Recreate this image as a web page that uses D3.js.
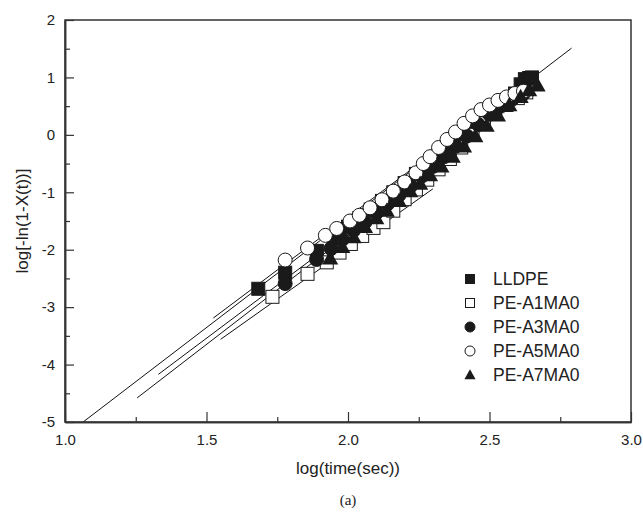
<!DOCTYPE html>
<html>
<head>
<meta charset="utf-8">
<script src="https://cdn.jsdelivr.net/npm/d3@7"></script>
<style>
  body { margin: 0; background: #fff; }
  svg { font-family: "Liberation Sans", Arial, sans-serif; }
</style>
</head>
<body>
<div id="chart"></div>
<script>
const seriesNames = ["LLDPE", "PE-A1MA0", "PE-A3MA0", "PE-A5MA0", "PE-A7MA0"];
const seriesSymbols = ["square", "squareOpen", "circle", "circleOpen", "triangle"];

// data points [log t, log(-ln(1-X))]
const lldpe = [[1.683,-2.68],[1.778,-2.40],[1.89,-2.02],[1.95,-1.8],[2.0,-1.6],[2.04,-1.45],[2.08,-1.3],
    [2.12,-1.15],[2.16,-1.0],[2.2,-0.84],[2.24,-0.68],[2.28,-0.52],[2.32,-0.35],[2.36,-0.18],[2.40,0.0],
    [2.44,0.16],[2.48,0.32],[2.52,0.47],[2.56,0.6],[2.59,0.72],[2.61,0.88],[2.625,0.97],[2.64,0.99],[2.65,1.0]];
const a1ma0 = [[1.733,-2.82],[1.857,-2.42],[1.925,-2.22],[1.97,-2.05],[2.01,-1.9],[2.05,-1.76],[2.09,-1.62],
    [2.125,-1.52],[2.16,-1.32],[2.2,-1.12],[2.24,-0.95],[2.28,-0.78],[2.32,-0.6],[2.36,-0.42],[2.4,-0.22],
    [2.44,0.0],[2.48,0.2],[2.52,0.38],[2.56,0.52],[2.6,0.64],[2.63,0.74]];
const a3ma0 = [[1.778,-2.59],[1.889,-2.17],[1.94,-1.98],[1.98,-1.82],[2.02,-1.66],[2.06,-1.52],[2.1,-1.36],
    [2.14,-1.2],[2.18,-1.05],[2.22,-0.9],[2.26,-0.72],[2.3,-0.55],[2.34,-0.38],[2.38,-0.2],[2.42,-0.02],
    [2.46,0.18],[2.5,0.36],[2.54,0.5],[2.58,0.62],[2.62,0.72]];
const a5ma0 = [[1.778,-2.18],[1.857,-1.97],[1.92,-1.75],[1.96,-1.63],[2.007,-1.5],[2.04,-1.4],[2.078,-1.27],
    [2.12,-1.13],[2.16,-0.98],[2.2,-0.82],[2.24,-0.66],[2.266,-0.5],[2.29,-0.38],[2.32,-0.22],[2.35,-0.08],
    [2.38,0.05],[2.41,0.2],[2.44,0.33],[2.47,0.44],[2.5,0.52],[2.53,0.6],[2.56,0.66],[2.59,0.72],[2.62,0.76]];
const a7ma0 = [[1.937,-2.15],[1.98,-1.95],[2.02,-1.78],[2.06,-1.6],[2.1,-1.45],[2.137,-1.32],[2.18,-1.15],
    [2.22,-0.98],[2.255,-0.85],[2.29,-0.7],[2.33,-0.55],[2.37,-0.38],[2.41,-0.2],[2.45,-0.02],[2.49,0.16],
    [2.53,0.34],[2.57,0.52],[2.61,0.66],[2.64,0.78],[2.67,0.86]];

// fitted lines, [x1, y1, x2, y2]
const fitLines = [
    [1.064, -5.0, 2.79, 1.51],
    [1.55, -3.56, 2.30, -0.94],
    [1.33, -4.17, 2.45, -0.03],
    [1.524, -3.19, 2.50, 0.42],
    [1.255, -4.58, 2.45, -0.04]
];

const xTicks = [1.0, 1.5, 2.0, 2.5, 3.0];
const xMinor = [1.25, 1.75, 2.25, 2.75];
const yTicks = [-5, -4, -3, -2, -1, 0, 1, 2];
const yMinor = [-4.5, -3.5, -2.5, -1.5, -0.5, 0.5, 1.5];

const allSeries = [lldpe, a1ma0, a3ma0, a5ma0, a7ma0];

const width = 643, height = 512,
    margin = { top: 20, right: 12, bottom: 90, left: 65 };

const svg = d3.select("#chart").append("svg")
    .attr("width", width).attr("height", height);

const x = d3.scaleLinear().domain([1, 3]).range([margin.left, width - margin.right]);
const y = d3.scaleLinear().domain([-5, 2]).range([height - margin.bottom, margin.top]);

const axisColor = "#333";

// fit lines
svg.append("g")
    .selectAll("line")
    .data(fitLines)
    .join("line")
    .attr("x1", d => x(d[0])).attr("y1", d => y(d[1]))
    .attr("x2", d => x(d[2])).attr("y2", d => y(d[3]))
    .attr("stroke", "#111").attr("stroke-width", 1);

function drawSymbol(g, type, cx, cy, s) {
    if (type === "square" || type === "squareOpen") {
        g.append("rect")
            .attr("x", cx - s / 2).attr("y", cy - s / 2)
            .attr("width", s).attr("height", s)
            .attr("fill", type === "square" ? "#1a1a1a" : "#fff")
            .attr("stroke", "#1a1a1a").attr("stroke-width", 1);
    } else if (type === "circle" || type === "circleOpen") {
        g.append("circle")
            .attr("cx", cx).attr("cy", cy).attr("r", s / 2 + 0.5)
            .attr("fill", type === "circle" ? "#1a1a1a" : "#fff")
            .attr("stroke", "#1a1a1a").attr("stroke-width", 1);
    } else {
        const h = s * 1.05;
        g.append("path")
            .attr("d", `M${cx},${cy - h * 0.6}L${cx + s * 0.62},${cy + h * 0.45}L${cx - s * 0.62},${cy + h * 0.45}Z`)
            .attr("fill", "#1a1a1a");
    }
}

// markers
const marks = svg.append("g");
allSeries.forEach((data, i) => {
    data.forEach(d => drawSymbol(marks, seriesSymbols[i], x(d[0]), y(d[1]), 13));
});

// axes frame
svg.append("rect")
    .attr("x", margin.left).attr("y", margin.top)
    .attr("width", x(3) - x(1)).attr("height", y(-5) - y(2))
    .attr("fill", "none").attr("stroke", axisColor).attr("stroke-width", 1.5);

svg.append("g").attr("transform", `translate(0,${y(-5)})`)
    .call(d3.axisBottom(x).tickValues(xTicks).tickFormat(d3.format(".1f")).tickSizeInner(-10).tickSizeOuter(0).tickPadding(12));
svg.append("g").attr("transform", `translate(0,${y(-5)})`)
    .call(d3.axisBottom(x).tickValues(xMinor).tickFormat("").tickSizeInner(-5).tickSizeOuter(0));

svg.append("g").attr("transform", `translate(${margin.left},0)`)
    .call(d3.axisLeft(y).tickValues(yTicks).tickFormat(d => String(d)).tickSizeInner(-9).tickSizeOuter(0).tickPadding(10));
svg.append("g").attr("transform", `translate(${margin.left},0)`)
    .call(d3.axisLeft(y).tickValues(yMinor).tickFormat("").tickSizeInner(-5).tickSizeOuter(0));

svg.selectAll(".domain").attr("stroke", axisColor).attr("stroke-width", 1.5);
svg.selectAll(".tick line").attr("stroke", axisColor).attr("stroke-width", 1.2);
svg.selectAll(".tick text").attr("font-size", 15).attr("fill", "#222")
    .attr("font-family", "Liberation Sans, Arial, sans-serif");

// titles
svg.append("text")
    .attr("x", (x(1) + x(3)) / 2).attr("y", 474)
    .attr("text-anchor", "middle").attr("font-size", 17).attr("fill", "#222")
    .text("log(time(sec))");

svg.append("text")
    .attr("transform", `translate(28,${(y(2) + y(-5)) / 2}) rotate(-90)`)
    .attr("text-anchor", "middle").attr("font-size", 17).attr("fill", "#222")
    .text("log[-ln(1-X(t))]");

svg.append("text")
    .attr("x", (x(1) + x(3)) / 2).attr("y", 505)
    .attr("text-anchor", "middle").attr("font-size", 15).attr("fill", "#222")
    .attr("font-family", "Liberation Serif, Times New Roman, serif")
    .text("(a)");

// legend
const legend = svg.append("g");
seriesNames.forEach((name, i) => {
    const ly = 279 + i * 24;
    drawSymbol(legend, seriesSymbols[i], 470, ly, 9);
    legend.append("text")
        .attr("x", 493).attr("y", ly + 6)
        .attr("font-size", 17.5).attr("fill", "#222")
        .text(name);
});
</script>
</body>
</html>
